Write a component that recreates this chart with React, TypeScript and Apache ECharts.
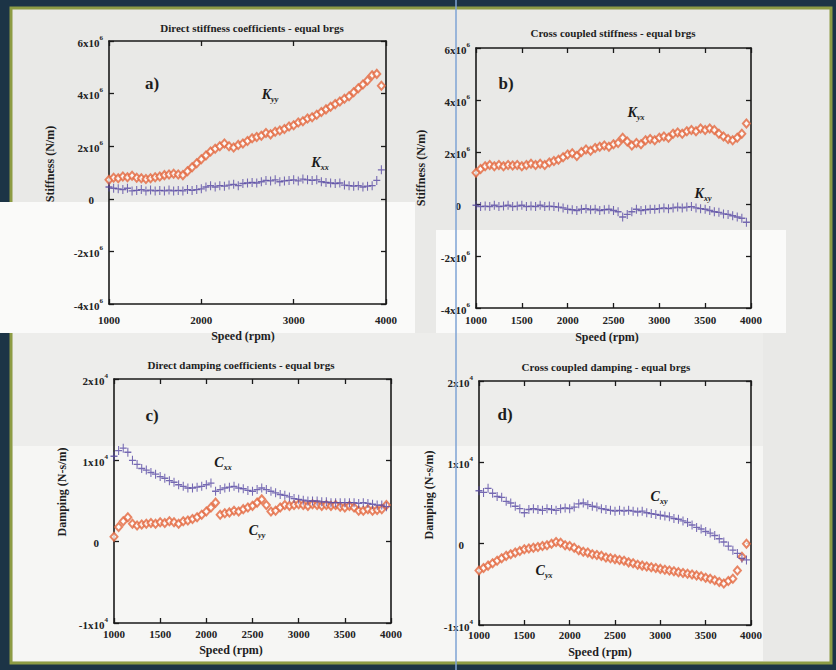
import React, { useEffect, useRef } from 'react';
import * as echarts from 'echarts';

// Shaft speed (rpm)
const speeds = [1000, 1050, 1100, 1150, 1200, 1250, 1300, 1350, 1400, 1450, 1500, 1550, 1600, 1650, 1700, 1750, 1800, 1850, 1900, 1950, 2000, 2050, 2100, 2150, 2200, 2250, 2300, 2350, 2400, 2450, 2500, 2550, 2600, 2650, 2700, 2750, 2800, 2850, 2900, 2950, 3000, 3050, 3100, 3150, 3200, 3250, 3300, 3350, 3400, 3450, 3500, 3550, 3600, 3650, 3700, 3750, 3800, 3850, 3900, 3950];

// Stiffness, x10^6 N/m
const kyy = [0.72, 0.8, 0.78, 0.85, 0.82, 0.88, 0.8, 0.78, 0.75, 0.78, 0.82, 0.85, 0.9, 0.92, 0.95, 0.92, 0.9, 1.05, 1.2, 1.35, 1.5, 1.65, 1.8, 1.9, 2.0, 2.1, 2.0, 1.95, 2.05, 2.1, 2.2, 2.3, 2.35, 2.4, 2.5, 2.45, 2.55, 2.6, 2.65, 2.75, 2.8, 2.9, 2.95, 3.05, 3.1, 3.2, 3.3, 3.4, 3.5, 3.6, 3.7, 3.8, 3.9, 4.05, 4.2, 4.35, 4.5, 4.7, 4.75, 4.3];
const kxx = [0.45, 0.4, 0.38, 0.35, 0.4, 0.3, 0.32, 0.35, 0.3, 0.33, 0.3, 0.32, 0.3, 0.33, 0.3, 0.32, 0.3, 0.35, 0.32, 0.35, 0.38, 0.45, 0.5, 0.45, 0.5, 0.48, 0.52, 0.55, 0.5, 0.58, 0.6, 0.62, 0.6, 0.65, 0.7, 0.68, 0.72, 0.65, 0.68, 0.7, 0.72, 0.68, 0.75, 0.72, 0.7, 0.72, 0.65, 0.62, 0.6, 0.58, 0.6, 0.52, 0.5, 0.48, 0.5, 0.45, 0.48, 0.5, 0.7, 1.1];
const kyx = [1.2, 1.35, 1.45, 1.5, 1.45, 1.5, 1.45, 1.5, 1.48, 1.5, 1.45, 1.5, 1.55, 1.5, 1.55, 1.5, 1.6, 1.65, 1.7, 1.8, 1.9, 1.95, 1.85, 2.0, 2.1, 2.05, 2.15, 2.2, 2.25, 2.2, 2.3, 2.35, 2.55, 2.4, 2.25, 2.35, 2.3, 2.45, 2.5, 2.45, 2.55, 2.6, 2.55, 2.7, 2.75, 2.7, 2.8, 2.85, 2.8, 2.9, 2.85, 2.9, 2.85, 2.7, 2.6, 2.5, 2.45, 2.55, 2.7, 3.1];
const kxy = [-0.05, -0.1, -0.08, -0.1, -0.05, -0.1, -0.08, -0.05, -0.1, -0.08, -0.05, -0.1, -0.08, -0.1, -0.05, -0.1, -0.08, -0.1, -0.12, -0.15, -0.2, -0.22, -0.25, -0.2, -0.18, -0.22, -0.2, -0.25, -0.22, -0.2, -0.25, -0.3, -0.5, -0.4, -0.3, -0.2, -0.25, -0.22, -0.2, -0.2, -0.18, -0.15, -0.18, -0.15, -0.12, -0.15, -0.12, -0.1, -0.15, -0.18, -0.2, -0.25, -0.3, -0.32, -0.38, -0.4, -0.45, -0.5, -0.55, -0.7];

// Damping, x10^4 N-s/m
const cxx = [1.05, 1.12, 1.15, 1.1, 1.0, 0.95, 0.9, 0.88, 0.85, 0.83, 0.8, 0.78, 0.75, 0.73, 0.7, 0.68, 0.66, 0.66, 0.67, 0.68, 0.7, 0.72, 0.62, 0.64, 0.66, 0.67, 0.68, 0.66, 0.65, 0.63, 0.62, 0.64, 0.66, 0.64, 0.62, 0.6, 0.58, 0.57, 0.55, 0.53, 0.52, 0.51, 0.5, 0.5, 0.5, 0.49, 0.49, 0.48, 0.48, 0.48, 0.48, 0.48, 0.48, 0.47, 0.48, 0.47, 0.46, 0.45, 0.45, 0.43];
const cyy = [0.06, 0.18, 0.25, 0.3, 0.22, 0.2, 0.21, 0.22, 0.23, 0.22, 0.24, 0.23, 0.25, 0.24, 0.22, 0.25, 0.26, 0.28, 0.3, 0.33, 0.37, 0.42, 0.48, 0.33, 0.35, 0.36, 0.38, 0.37, 0.4, 0.42, 0.44, 0.48, 0.52, 0.45, 0.37, 0.38, 0.42, 0.45, 0.44, 0.45, 0.46, 0.45, 0.44, 0.46, 0.45, 0.44, 0.45, 0.44, 0.45, 0.43, 0.42, 0.44, 0.42, 0.38, 0.38, 0.4, 0.38, 0.39, 0.4, 0.45];
const cxy = [0.65, 0.63, 0.68, 0.62, 0.58, 0.57, 0.52, 0.5, 0.46, 0.43, 0.38, 0.42, 0.43, 0.42, 0.41, 0.43, 0.42, 0.41, 0.43, 0.44, 0.43, 0.45, 0.49, 0.5, 0.48, 0.46, 0.45, 0.43, 0.42, 0.41, 0.4, 0.41, 0.4, 0.41, 0.4, 0.39, 0.4, 0.38, 0.37, 0.36, 0.35, 0.34, 0.33, 0.31, 0.3, 0.28, 0.26, 0.23, 0.2, 0.18, 0.15, 0.13, 0.1, 0.06, 0.02, -0.03, -0.08, -0.12, -0.18, -0.2];
const cyx = [-0.33, -0.3, -0.27, -0.24, -0.21, -0.18, -0.15, -0.13, -0.11, -0.09, -0.07, -0.06, -0.05, -0.04, -0.03, -0.02, 0.0, 0.02, 0.01, -0.02, -0.03, -0.05, -0.08, -0.1, -0.11, -0.13, -0.14, -0.15, -0.17, -0.18, -0.19, -0.2, -0.21, -0.23, -0.24, -0.26, -0.27, -0.28, -0.29, -0.3, -0.31, -0.32, -0.33, -0.34, -0.35, -0.36, -0.37, -0.38, -0.39, -0.4, -0.42, -0.43, -0.45, -0.47, -0.49, -0.46, -0.43, -0.33, -0.16, 0.0];

const panelTitles = ['Direct stiffness coefficients - equal brgs', 'Cross coupled stiffness - equal brgs', 'Direct damping coefficients - equal brgs', 'Cross coupled damping - equal brgs'];
const panelTags = ['a)', 'b)', 'c)', 'd)'];
const xAxisName = 'Speed (rpm)';
const yAxisNames = ['Stiffness (N/m)', 'Stiffness (N/m)', 'Damping (N-s/m)', 'Damping (N-s/m)'];
const stiffnessRange = [-4, 6, 2];
const dampingRange = [-1, 2, 1];
const stiffnessExp = '6';
const dampingExp = '4';

const serif = '"Liberation Serif", "DejaVu Serif", serif';
const ink = '#1a1a1a';
const diamondColor = '#e4683f';
const plusColor = '#5647a3';
const plusPath = 'path://M5,0V10M0,5H10';

const grids = [
  { left: 109, top: 41, width: 277, height: 263 },
  { left: 476, top: 48, width: 275, height: 260 },
  { left: 114, top: 379, width: 277, height: 244 },
  { left: 479, top: 381, width: 272, height: 244 },
];

function yLabel(exp: string) {
  return (v: number) => (v === 0 ? '{n|0}{sp|}' : `{n|${v}x10}{e|${exp}}`);
}

function tickRich() {
  return {
    n: { fontFamily: serif, fontSize: 11, fontWeight: 'bold', color: '#222', lineHeight: 14, verticalAlign: 'bottom' },
    e: { fontFamily: serif, fontSize: 7, fontWeight: 'bold', color: '#222', lineHeight: 14, verticalAlign: 'top' },
    sp: { width: 9 },
  };
}

function sub(main: string, s: string, x: number, y: number) {
  return {
    type: 'text',
    x,
    y,
    z: 20,
    style: {
      text: `{m|${main}}{s|${s}}`,
      align: 'center',
      verticalAlign: 'middle',
      rich: {
        m: { fontFamily: serif, fontSize: 14, fontStyle: 'italic', fontWeight: 'bold', fill: '#1a1a1a', lineHeight: 16, verticalAlign: 'top' },
        s: { fontFamily: serif, fontSize: 8, fontStyle: 'italic', fontWeight: 'bold', fill: '#1a1a1a', lineHeight: 16, verticalAlign: 'bottom' },
      },
    },
  };
}

function plainText(text: string, x: number, y: number, size: number, bold: boolean, rotation = 0) {
  return {
    type: 'text',
    x,
    y,
    rotation,
    z: 20,
    style: {
      text,
      align: 'center',
      verticalAlign: 'middle',
      fontFamily: serif,
      fontSize: size,
      fontWeight: bold ? 'bold' : 'normal',
      fill: '#1e1e1e',
    },
  };
}

export default function App() {
  const ref = useRef<HTMLDivElement>(null);

  useEffect(() => {
    if (!ref.current) return;
    const chart = echarts.init(ref.current, null, { renderer: 'svg' });

    const xIntervals = [1000, 500, 500, 500];
    const xLabelMargins = [10, 6, 5, 4];
    const xAxes: any[] = [];
    const yAxes: any[] = [];
    grids.forEach((g, i) => {
      const axisLine = { onZero: false, lineStyle: { color: ink, width: 1.6 } };
      const axisTick = { inside: true, length: 5, lineStyle: { color: ink, width: 1.3 } };
      xAxes.push({
        gridIndex: i, type: 'value', min: 1000, max: 4000, interval: xIntervals[i], position: 'bottom',
        axisLine, axisTick,
        axisLabel: { fontFamily: serif, fontSize: 11, fontWeight: 'bold', color: '#222', margin: xLabelMargins[i], formatter: (v: number) => String(v) },
        splitLine: { show: false },
      });
      xAxes.push({
        gridIndex: i, type: 'value', min: 1000, max: 4000, interval: xIntervals[i], position: 'top',
        axisLine, axisTick, axisLabel: { show: false }, splitLine: { show: false },
      });
      const r = i < 2 ? stiffnessRange : dampingRange;
      const exp = i < 2 ? stiffnessExp : dampingExp;
      yAxes.push({
        gridIndex: i, type: 'value', min: r[0], max: r[1], interval: r[2], position: 'left',
        axisLine, axisTick,
        axisLabel: { formatter: yLabel(exp), rich: tickRich(), margin: 6 },
        splitLine: { show: false },
      });
      yAxes.push({
        gridIndex: i, type: 'value', min: r[0], max: r[1], interval: r[2], position: 'right',
        axisLine, axisTick, axisLabel: { show: false }, splitLine: { show: false },
      });
    });

    const pair = (arr: number[]) => speeds.map((s, k) => [s, arr[k]]);
    const diamonds = (arr: number[], gi: number) => ({
      type: 'scatter', xAxisIndex: gi * 2, yAxisIndex: gi * 2, data: pair(arr),
      symbol: 'emptyDiamond', symbolSize: [7, 8],
      itemStyle: { color: diamondColor, borderColor: diamondColor, borderWidth: 1.1 },
      z: 2,
    });
    const pluses = (arr: number[], gi: number) => ({
      type: 'scatter', xAxisIndex: gi * 2, yAxisIndex: gi * 2, data: pair(arr),
      symbol: plusPath, symbolSize: [7, 9],
      itemStyle: { color: plusColor, borderColor: plusColor, borderWidth: 1.2 },
      z: 3,
    });

    const graphic: any[] = [
      { type: 'rect', shape: { x: 11, y: 8, width: 820, height: 655 }, style: { fill: '#e9e9e7', stroke: '#8d9c44', lineWidth: 3 }, z: -10 },
      { type: 'rect', shape: { x: 0, y: 202, width: 415, height: 131 }, style: { fill: '#fafaf9' }, z: -9 },
      { type: 'rect', shape: { x: 436, y: 230, width: 350, height: 103 }, style: { fill: '#fafaf9' }, z: -9 },
      { type: 'rect', shape: { x: 13, y: 446, width: 750, height: 215 }, style: { fill: '#f6f6f4' }, z: -9 },
      { type: 'rect', shape: { x: 13, y: 333, width: 750, height: 113 }, style: { fill: '#ededeb' }, z: -9 },
      plainText(panelTitles[0], 252, 28, 11, true),
      plainText(panelTitles[1], 613, 33, 11, true),
      plainText(panelTitles[2], 241, 365, 11, true),
      plainText(panelTitles[3], 606, 367, 11, true),
      plainText(panelTags[0], 152, 83, 17, true),
      plainText(panelTags[1], 506, 83, 17, true),
      plainText(panelTags[2], 152, 415, 17, true),
      plainText(panelTags[3], 505, 414, 17, true),
      plainText(xAxisName, 243, 336, 12, true),
      plainText(xAxisName, 607, 337, 12, true),
      plainText(xAxisName, 231, 650, 12, true),
      plainText(xAxisName, 600, 652, 12, true),
      plainText(yAxisNames[0], 50, 164, 12, true, Math.PI / 2),
      plainText(yAxisNames[1], 421, 168, 12, true, Math.PI / 2),
      plainText(yAxisNames[2], 62, 492, 12, true, Math.PI / 2),
      plainText(yAxisNames[3], 429, 495, 12, true, Math.PI / 2),
      sub('K', 'yy', 270, 95),
      sub('K', 'xx', 320, 163),
      sub('K', 'yx', 636, 113),
      sub('K', 'xy', 703, 194),
      sub('C', 'xx', 223, 463),
      sub('C', 'yy', 257, 531),
      sub('C', 'xy', 659, 497),
      sub('C', 'yx', 544, 571),
      { type: 'line', shape: { x1: 456, y1: 0, x2: 456, y2: 670 }, style: { stroke: '#7ea3d4', lineWidth: 1.5 }, z: 50 },
    ];

    chart.setOption({
      animation: false,
      backgroundColor: '#1c3446',
      grid: grids.map((g) => ({ ...g, containLabel: false })),
      xAxis: xAxes,
      yAxis: yAxes,
      graphic,
      series: [
        diamonds(kyy, 0), pluses(kxx, 0),
        diamonds(kyx, 1), pluses(kxy, 1),
        diamonds(cyy, 2), pluses(cxx, 2),
        diamonds(cyx, 3), pluses(cxy, 3),
      ],
    });
    return () => chart.dispose();
  }, []);

  return <div ref={ref} style={{ position: 'absolute', left: 0, top: 0, width: 836, height: 670 }} />;
}
